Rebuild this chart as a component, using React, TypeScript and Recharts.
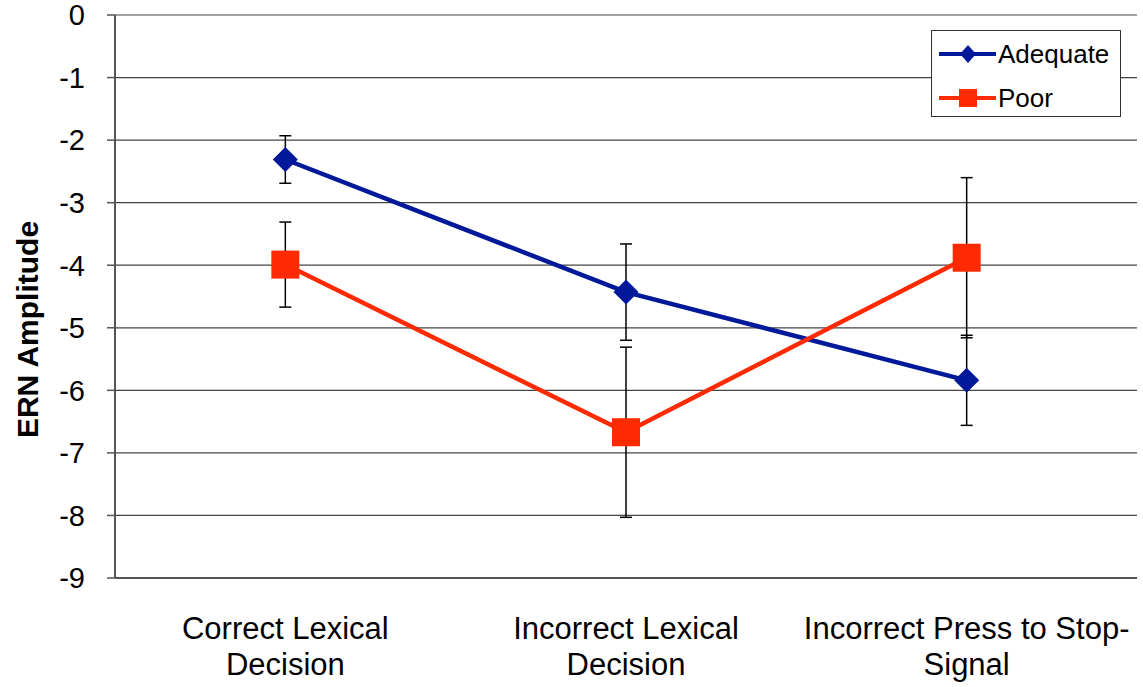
import React from "react";
import {
  LineChart,
  Line,
  XAxis,
  YAxis,
  CartesianGrid,
  ErrorBar,
  Legend,
} from "recharts";

const categories = [
  "Correct Lexical\nDecision",
  "Incorrect Lexical\nDecision",
  "Incorrect Press to Stop-\nSignal",
];
const adequate = [-2.31, -4.43, -5.84];
const adequateErr = [0.38, 0.77, 0.72];
const poor = [-3.99, -6.67, -3.88];
const poorErr = [0.68, 1.36, 1.28];
const yTicks = [0, -1, -2, -3, -4, -5, -6, -7, -8, -9];

const BLUE = "#00189a";
const RED = "#ff2a00";
const FONT = "'Liberation Sans', Arial, sans-serif";

const data = categories.map((c, i) => ({
  name: c,
  adequate: adequate[i],
  adequateErr: adequateErr[i],
  poor: poor[i],
  poorErr: poorErr[i],
}));

const Diamond = (props: any) => {
  const { cx, cy } = props;
  if (cx == null || cy == null) return null;
  const r = 12.5;
  return (
    <path
      d={`M${cx},${cy - r}L${cx + r},${cy}L${cx},${cy + r}L${cx - r},${cy}Z`}
      fill={BLUE}
    />
  );
};

const Square = (props: any) => {
  const { cx, cy } = props;
  if (cx == null || cy == null) return null;
  const r = 14;
  return <rect x={cx - r} y={cy - r} width={r * 2} height={r * 2} fill={RED} />;
};

const CategoryTick = (props: any) => {
  const { x, y, payload } = props;
  const lines = String(payload.value).split("\n");
  return (
    <text x={x} y={y} textAnchor="middle" fontFamily={FONT} fontSize={31} fill="#000">
      {lines.map((l, i) => (
        <tspan key={i} x={x} dy={i === 0 ? 53 : 36}>
          {l}
        </tspan>
      ))}
    </text>
  );
};

const LegendBox = () => (
  <div
    style={{
      width: 188,
      height: 85,
      border: "1px solid #333",
      background: "#fff",
      fontFamily: FONT,
      fontSize: 26,
      color: "#000",
      boxSizing: "content-box",
    }}
  >
    {[
      { label: "Adequate", color: BLUE, shape: "diamond" },
      { label: "Poor", color: RED, shape: "square" },
    ].map((e, i) => (
      <div
        key={e.label}
        style={{ display: "flex", alignItems: "center", height: 44, marginTop: i === 0 ? 1 : 0 }}
      >
        <svg width={68} height={30} style={{ marginLeft: 4 }}>
          <line x1={3} y1={15} x2={60} y2={15} stroke={e.color} strokeWidth={4} />
          {e.shape === "diamond" ? (
            <path d="M32,6L40,15L32,24L24,15Z" fill={e.color} />
          ) : (
            <rect x={23} y={6} width={18} height={18} fill={e.color} />
          )}
        </svg>
        <span style={{ marginLeft: -6 }}>{e.label}</span>
      </div>
    ))}
  </div>
);

export default function App() {
  return (
    <div style={{ width: 1143, height: 687, background: "#fff" }}>
      <style>{"body{margin:0}"}</style>
      <LineChart
        width={1143}
        height={687}
        data={data}
        margin={{ top: 15, right: 6, bottom: 0, left: 35 }}
      >
        <CartesianGrid horizontal vertical={false} stroke="#444" strokeWidth={1.2} />
        <XAxis
          dataKey="name"
          scale="band"
          interval={0}
          tick={<CategoryTick />}
          tickLine={false}
          axisLine={{ stroke: "#555", strokeWidth: 2 }}
          height={109}
        />
        <YAxis
          domain={[-9, 0]}
          ticks={yTicks}
          interval={0}
          width={80}
          tickSize={8}
          tickMargin={22}
          tickLine={{ stroke: "#555", strokeWidth: 1.5 }}
          axisLine={{ stroke: "#555", strokeWidth: 2 }}
          tick={{ fontFamily: FONT, fontSize: 29, fill: "#000" }}
          label={({ viewBox }: any) => {
            const cx = viewBox.x - 8;
            const cy = viewBox.y + viewBox.height / 2 + 33;
            return (
              <text
                x={cx}
                y={cy}
                transform={`rotate(-90, ${cx}, ${cy})`}
                textAnchor="middle"
                dominantBaseline="central"
                fontFamily={FONT}
                fontWeight="bold"
                fontSize={30}
                fill="#000"
              >
                ERN Amplitude
              </text>
            );
          }}
        />
        <YAxis
          yAxisId="frame"
          orientation="right"
          domain={[-9, 0]}
          ticks={[]}
          width={0}
          tick={false}
          tickLine={false}
          axisLine={{ stroke: "#999", strokeWidth: 2 }}
        />
        <Legend
          layout="vertical"
          verticalAlign="middle"
          align="center"
          content={<LegendBox />}
          wrapperStyle={{ position: "absolute", top: 30, left: 931, width: 190, height: 87 }}
        />
        <Line
          dataKey="adequate"
          name="Adequate"
          stroke={BLUE}
          strokeWidth={4.5}
          dot={<Diamond />}
          activeDot={false}
          isAnimationActive={false}
        >
          <ErrorBar dataKey="adequateErr" width={6} stroke="#000" strokeWidth={1.5} direction="y" />
        </Line>
        <Line
          dataKey="poor"
          name="Poor"
          stroke={RED}
          strokeWidth={4.5}
          dot={<Square />}
          activeDot={false}
          isAnimationActive={false}
        >
          <ErrorBar dataKey="poorErr" width={6} stroke="#000" strokeWidth={1.5} direction="y" />
        </Line>
      </LineChart>
    </div>
  );
}
